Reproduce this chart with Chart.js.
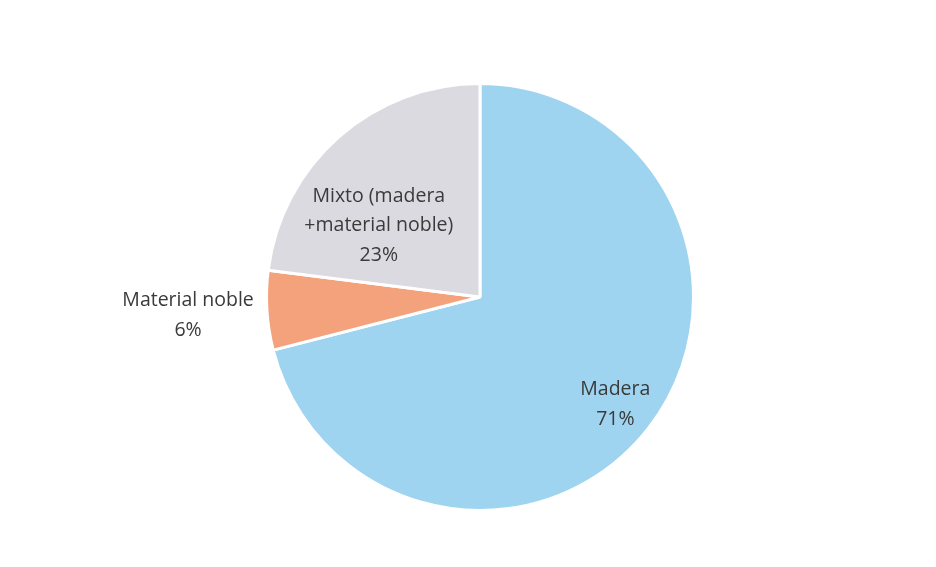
<!DOCTYPE html>
<html lang="es">
<head>
<meta charset="UTF-8">
<title>Material de vivienda</title>
<style>
  html, body { margin: 0; padding: 0; background: #fff; }
  .wrap { width: 936px; height: 567px; position: relative; }
</style>
</head>
<body>
<div class="wrap"><canvas id="grafico"></canvas></div>

<script src="https://cdn.jsdelivr.net/npm/chart.js"></script>
<script>
// datos
const categorias = ['Madera', 'Material noble', 'Mixto (madera\n+material noble)'];
const porcentajes = [71, 6, 23];
const colores = ['#9fd4f0', '#f4a27c', '#dcdae1'];

// ubicacion de cada etiqueta: factor del radio y giro en grados respecto al centro del sector
const posEtiquetas = [
  { r: 0.81, giro: 0.7 },
  { r: 1.37, giro: 0 },
  { r: 0.58, giro: -13.4 }
];

const etiquetasPlugin = {
  id: 'etiquetas',
  afterDatasetsDraw(chart) {
    const ctx = chart.ctx;
    const meta = chart.getDatasetMeta(0);
    ctx.save();
    ctx.font = '19.5px "Open Sans", sans-serif';
    ctx.fillStyle = '#3a3a3a';
    ctx.textAlign = 'center';
    ctx.textBaseline = 'middle';
    meta.data.forEach((arc, i) => {
      const p = arc.getProps(['x', 'y', 'startAngle', 'endAngle', 'outerRadius'], true);
      const ang = (p.startAngle + p.endAngle) / 2 + posEtiquetas[i].giro * Math.PI / 180;
      const r = p.outerRadius * posEtiquetas[i].r;
      const cx = p.x + Math.cos(ang) * r;
      const cy = p.y + Math.sin(ang) * r;
      const lineas = categorias[i].split('\n').concat([porcentajes[i] + '%']);
      const alto = 29.5;
      const y0 = cy - (lineas.length - 1) * alto / 2;
      lineas.forEach((t, k) => ctx.fillText(t, cx, y0 + k * alto));
    });
    ctx.restore();
  }
};

new Chart(document.getElementById('grafico'), {
  type: 'pie',
  data: {
    labels: categorias,
    datasets: [{
      data: porcentajes,
      backgroundColor: colores,
      borderColor: '#ffffff',
      borderWidth: 3
    }]
  },
  options: {
    responsive: true,
    maintainAspectRatio: false,
    animation: false,
    layout: { padding: { top: 82, bottom: 55, left: 265, right: 241 } },
    plugins: {
      legend: { display: false },
      tooltip: { enabled: false }
    }
  },
  plugins: [etiquetasPlugin]
});
</script>
</body>
</html>
